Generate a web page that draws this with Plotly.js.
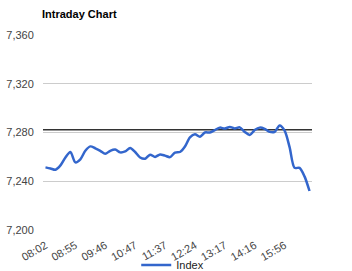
<!DOCTYPE html>
<html>
<head>
<meta charset="utf-8">
<script src="https://cdn.plot.ly/plotly-3.0.1.min.js"></script>
<style>html,body{margin:0;padding:0;background:#fff;}#chart{width:352px;height:271px;}</style>
</head>
<body>
<div id="chart"></div>
<script>
// Index values (one per sampled time step)
var indexValues = [
  7251.4, 7250.5, 7249.4, 7253.0, 7259.5, 7264.0, 7255.5, 7258.0, 7265.0, 7268.6,
  7267.0, 7265.0, 7262.5, 7265.0, 7266.0, 7263.7, 7264.5, 7267.3, 7264.0, 7259.5,
  7258.5, 7261.8, 7260.0, 7262.0, 7261.0, 7259.8, 7263.5, 7264.0, 7268.5, 7276.0,
  7278.5, 7276.5, 7280.0, 7280.0, 7282.0, 7284.0, 7283.2, 7284.6, 7283.3, 7284.2,
  7280.5, 7278.0, 7282.0, 7284.0, 7283.0, 7280.5, 7280.5, 7285.7, 7281.5, 7268.0,
  7251.0, 7251.0, 7244.0, 7232.0
];
// Tick labels and the sample positions they sit on
var tickPositions = [0, 6, 12, 18, 24, 30, 36, 42, 48];
var tickLabels = ["08:02", "08:55", "09:46", "10:47", "11:37", "12:24", "13:17", "14:16", "15:56"];
// Previous close reference line
var prevClose = [7282.2];
var yTicks = [7200, 7240, 7280, 7320, 7360];

var xs = indexValues.map(function (v, i) { return i; });

var traces = [{
  x: xs,
  y: indexValues,
  type: 'scatter',
  mode: 'lines',
  name: 'Index',
  line: { color: '#3366cc', width: 2.5, shape: 'spline', smoothing: 0.8 },
  hoverinfo: 'skip'
}];

var layout = {
  width: 352,
  height: 271,
  margin: { l: 43, r: 40, t: 35, b: 41 },
  paper_bgcolor: '#ffffff',
  plot_bgcolor: '#ffffff',
  font: { family: 'Arial, "Liberation Sans", sans-serif', size: 11, color: '#444' },
  title: {
    text: '<b>Intraday Chart</b>',
    font: { family: 'Arial, "Liberation Sans", sans-serif', size: 11, color: '#000' },
    xref: 'container', yref: 'container',
    x: 42 / 352, xanchor: 'left',
    y: 1 - 14 / 271, yanchor: 'middle'
  },
  xaxis: {
    range: [-0.5, indexValues.length - 0.5],
    tickmode: 'array',
    tickvals: tickPositions,
    ticktext: tickLabels,
    tickangle: -30,
    showgrid: false,
    zeroline: false,
    showline: false,
    ticks: 'outside',
    ticklen: 4,
    tickcolor: 'rgba(0,0,0,0)',
    tickfont: { size: 11, color: '#444' },
    fixedrange: true
  },
  yaxis: {
    range: [7200, 7360],
    tickmode: 'array',
    tickvals: yTicks,
    tickformat: ',d',
    showgrid: true,
    gridcolor: '#cccccc',
    gridwidth: 1,
    zeroline: false,
    showline: false,
    ticks: 'outside',
    ticklen: 6,
    tickcolor: 'rgba(0,0,0,0)',
    tickfont: { size: 11, color: '#444' },
    fixedrange: true
  },
  shapes: [{
    type: 'line', xref: 'paper', x0: 0, x1: 1,
    yref: 'y', y0: prevClose[0], y1: prevClose[0],
    line: { color: '#333333', width: 1.5 },
    layer: 'below'
  }],
  showlegend: true,
  legend: {
    orientation: 'h',
    xref: 'container', yref: 'container',
    x: 0.387, xanchor: 'left',
    y: 0.022, yanchor: 'middle',
    font: { size: 11, color: '#222' },
    bgcolor: 'rgba(0,0,0,0)'
  }
};

Plotly.newPlot('chart', traces, layout, { displayModeBar: false, staticPlot: true });
</script>
</body>
</html>
